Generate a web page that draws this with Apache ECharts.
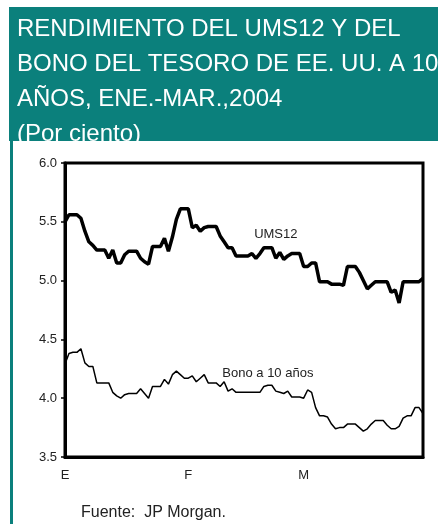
<!DOCTYPE html>
<html>
<head>
<meta charset="utf-8">
<script src="https://cdn.jsdelivr.net/npm/echarts@6/dist/echarts.min.js"></script>
<style>
  html, body { margin: 0; padding: 0; background: #fff; }
  #chart { width: 438px; height: 524px; }
</style>
</head>
<body>
<div id="chart"></div>
<script>
// dias calendario ene-mar 2004
const days = [];
for (let m = 1; m <= 3; m++) {
  const n = [31, 29, 31][m - 1];
  for (let d = 1; d <= n; d++) days.push(d + '/' + m);
}

const tickLabels = { 0: 'E', 31: 'F', 60: 'M' };

const ums12 = [
  5.50, 5.56, 5.56, 5.56, 5.53, 5.42, 5.33, 5.30, 5.26, 5.26,
  5.26, 5.19, 5.26, 5.15, 5.15, 5.22, 5.25, 5.25, 5.25, 5.19,
  5.16, 5.14, 5.29, 5.29, 5.29, 5.36, 5.25, 5.37, 5.52, 5.61,
  5.61, 5.61, 5.45, 5.47, 5.42, 5.45, 5.46, 5.46, 5.46, 5.38,
  5.33, 5.28, 5.28, 5.21, 5.21, 5.21, 5.21, 5.23, 5.19, 5.23,
  5.28, 5.28, 5.28, 5.19, 5.24, 5.18, 5.21, 5.23, 5.23, 5.23,
  5.12, 5.12, 5.15, 5.15, 4.99, 4.99, 4.99, 4.97, 4.97, 4.97,
  4.96, 5.12, 5.12, 5.12, 5.07, 5.00, 4.93, 4.96, 4.99, 4.99,
  4.99, 4.99, 4.90, 4.92, 4.81, 4.99, 4.99, 4.99, 4.99, 4.99,
  5.02
];

const bono10 = [
  4.29, 4.38, 4.39, 4.39, 4.42, 4.30, 4.27, 4.27, 4.13, 4.13,
  4.13, 4.13, 4.05, 4.02, 4.00, 4.03, 4.04, 4.04, 4.04, 4.08,
  4.04, 4.00, 4.10, 4.10, 4.10, 4.16, 4.12, 4.20, 4.23, 4.20,
  4.17, 4.17, 4.19, 4.14, 4.17, 4.20, 4.13, 4.13, 4.13, 4.10,
  4.14, 4.06, 4.08, 4.05, 4.05, 4.05, 4.05, 4.05, 4.05, 4.05,
  4.10, 4.11, 4.11, 4.06, 4.05, 4.04, 4.06, 4.01, 4.01, 4.01,
  4.00, 4.07, 4.05, 3.92, 3.85, 3.85, 3.84, 3.78, 3.74, 3.75,
  3.75, 3.78, 3.78, 3.78, 3.75, 3.72, 3.74, 3.78, 3.81, 3.81,
  3.81, 3.77, 3.74, 3.74, 3.76, 3.83, 3.85, 3.85, 3.92, 3.92,
  3.87
];

const teal = '#0b807c';
const font = 'Liberation Sans, Arial, sans-serif';

const myChart = echarts.init(document.getElementById('chart'));

const option = {
  animation: false,
  title: {
    text: 'RENDIMIENTO DEL UMS12 Y DEL\nBONO DEL TESORO DE EE. UU. A 10\nAÑOS, ENE.-MAR.,2004\n(Por ciento)',
    left: 17,
    top: 12,
    padding: 0,
    textStyle: {
      color: '#fff',
      fontFamily: font,
      fontWeight: 'normal',
      fontSize: 24,
      lineHeight: 35
    },
    z: 10
  },
  graphic: [
    {
      type: 'rect',
      left: 9, top: 7,
      shape: { width: 429, height: 134 },
      style: { fill: teal },
      z: -1
    },
    {
      type: 'rect',
      left: 10, top: 140,
      shape: { width: 3, height: 384 },
      style: { fill: teal },
      z: -1
    },
    {
      type: 'text',
      left: 81, top: 505,
      style: {
        text: 'Fuente:  JP Morgan.',
        fill: '#222',
        font: '16px ' + font
      }
    }
  ],
  grid: {
    left: 65,
    right: 15,
    top: 163,
    bottom: 67,
    show: true,
    borderColor: '#000',
    borderWidth: 3
  },
  xAxis: {
    type: 'category',
    data: days,
    boundaryGap: false,
    axisLine: { lineStyle: { color: '#000', width: 3 } },
    axisTick: { show: false },
    splitLine: { show: false },
    axisLabel: {
      interval: (index) => tickLabels[index] !== undefined,
      formatter: (value, index) => tickLabels[index] || '',
      color: '#222',
      fontFamily: font,
      fontSize: 13,
      margin: 12
    }
  },
  yAxis: {
    type: 'value',
    min: 3.5,
    max: 6.0,
    interval: 0.5,
    axisLine: { show: true, lineStyle: { color: '#000', width: 3 } },
    axisTick: { show: true, length: 4, lineStyle: { color: '#000', width: 1.5 } },
    splitLine: { show: false },
    axisLabel: {
      formatter: v => v.toFixed(1),
      color: '#222',
      fontFamily: font,
      fontSize: 13,
      margin: 8
    }
  },
  series: [
    {
      name: 'UMS12',
      type: 'line',
      data: ums12,
      symbol: 'none',
      lineStyle: { color: '#000', width: 3.5 },
      markPoint: {
        symbol: 'circle',
        symbolSize: 0,
        label: {
          show: true,
          position: 'inside',
          formatter: 'UMS12',
          color: '#222',
          fontFamily: font,
          fontSize: 13
        },
        data: [{ coord: [days[53], 5.39] }]
      }
    },
    {
      name: 'Bono a 10 años',
      type: 'line',
      data: bono10,
      symbol: 'none',
      lineStyle: { color: '#000', width: 1.5 },
      markPoint: {
        symbol: 'circle',
        symbolSize: 0,
        label: {
          show: true,
          position: 'inside',
          formatter: 'Bono a 10 años',
          color: '#222',
          fontFamily: font,
          fontSize: 13
        },
        data: [{ coord: [days[51], 4.21] }]
      }
    }
  ]
};

myChart.setOption(option);
</script>
</body>
</html>
